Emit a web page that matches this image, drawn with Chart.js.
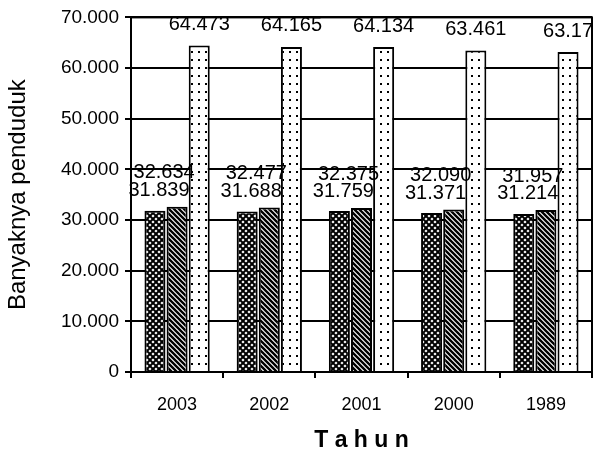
<!DOCTYPE html>
<html>
<head>
<meta charset="utf-8">
<script src="https://cdn.jsdelivr.net/npm/chart.js@4"></script>
<style>
  html, body { margin: 0; padding: 0; background: #fff; }
  #wrap { width: 594px; height: 458px; }
</style>
</head>
<body>
<div id="wrap"><canvas id="chart" width="594" height="458"></canvas></div>
<script>
// data (ribu jiwa)
const tahun = ["2003", "2002", "2001", "2000", "1989"];
const lakiLaki = ["31.839", "31.688", "31.759", "31.371", "31.214"];
const perempuan = ["32.634", "32.477", "32.375", "32.090", "31.957"];
const jumlah = ["64.473", "64.165", "64.134", "63.461", "63.17"];

// fill patterns
function makePattern(w, h, draw) {
    const c = document.createElement("canvas");
    c.width = w;
    c.height = h;
    const g = c.getContext("2d");
    g.fillStyle = "#fff";
    g.fillRect(0, 0, w, h);
    g.fillStyle = "#000";
    g.strokeStyle = "#000";
    draw(g);
    return document.getElementById("chart").getContext("2d").createPattern(c, "repeat");
}

const crossPattern = makePattern(6, 6, g => {
    g.lineWidth = 2;
    g.beginPath();
    g.moveTo(0, 0); g.lineTo(6, 6);
    g.moveTo(6, 0); g.lineTo(0, 6);
    g.stroke();
});

const stripePattern = makePattern(5, 5, g => {
    g.lineWidth = 2.4;
    g.beginPath();
    g.moveTo(-1, -1); g.lineTo(6, 6);
    g.moveTo(-1, 4); g.lineTo(1, 6);
    g.moveTo(4, -1); g.lineTo(6, 1);
    g.stroke();
});

const dotPattern = makePattern(7, 8, g => {
    g.fillRect(2, 3, 2, 2);
});

// value labels above bars, staggered like the original
const labelShift = [[4, 20], [-13, 34], [0, 21]];
const valueLabels = {
    id: "valueLabels",
    afterDatasetsDraw(chart) {
        const ctx = chart.ctx;
        ctx.save();
        ctx.font = "20px 'Liberation Sans', Arial, sans-serif";
        ctx.fillStyle = "#000";
        ctx.textAlign = "center";
        ctx.textBaseline = "middle";
        chart.data.datasets.forEach((ds, i) => {
            chart.getDatasetMeta(i).data.forEach((bar, j) => {
                ctx.fillText(ds.data[j], bar.x + labelShift[i][0], bar.y - labelShift[i][1]);
            });
        });
        ctx.restore();
    }
};

// frame around the plot area
const plotFrame = {
    id: "plotFrame",
    afterDraw(chart) {
        const a = chart.chartArea;
        const ctx = chart.ctx;
        ctx.save();
        ctx.strokeStyle = "#000";
        ctx.lineWidth = 2;
        ctx.strokeRect(a.left, a.top, a.right - a.left, a.bottom - a.top);
        ctx.restore();
    }
};

const ctx = document.getElementById("chart").getContext("2d");
new Chart(ctx, {
    type: "bar",
    data: {
        labels: tahun,
        datasets: [
            { label: "Laki-laki", data: lakiLaki, backgroundColor: crossPattern },
            { label: "Perempuan", data: perempuan, backgroundColor: stripePattern },
            { label: "Jumlah", data: jumlah, backgroundColor: dotPattern }
        ]
    },
    options: {
        responsive: false,
        animation: false,
        layout: { padding: { top: 14, right: 2, left: 0, bottom: 0 } },
        datasets: {
            bar: {
                borderColor: "#000",
                borderWidth: 2,
                categoryPercentage: 0.72,
                barPercentage: 0.95
            }
        },
        plugins: {
            legend: { display: false },
            tooltip: { enabled: false }
        },
        scales: {
            x: {
                grid: { drawOnChartArea: false, drawTicks: true, tickLength: 6, color: "#000", lineWidth: 2 },
                border: { color: "#000", width: 2 },
                ticks: {
                    color: "#000",
                    padding: 16,
                    font: { family: "'Liberation Sans', Arial, sans-serif", size: 18 }
                },
                title: {
                    display: true,
                    text: "T a h u n",
                    color: "#000",
                    padding: { top: 10 },
                    font: { family: "'Liberation Sans', Arial, sans-serif", size: 23, weight: "bold" }
                },
                afterFit(scale) { scale.height = 86; }
            },
            y: {
                min: 0,
                max: 70,
                grid: { color: "#000", lineWidth: 2, tickLength: 6 },
                border: { color: "#000", width: 2 },
                ticks: {
                    stepSize: 10,
                    color: "#000",
                    padding: 6,
                    font: { family: "'Liberation Sans', Arial, sans-serif", size: 19 },
                    callback: v => v === 0 ? "0" : v.toFixed(3)
                },
                title: {
                    display: true,
                    text: "Banyaknya penduduk",
                    color: "#000",
                    padding: { bottom: 2 },
                    font: { family: "'Liberation Sans', Arial, sans-serif", size: 24 }
                },
                afterFit(scale) { scale.width = 131; }
            }
        }
    },
    plugins: [valueLabels, plotFrame]
});
</script>
</body>
</html>
